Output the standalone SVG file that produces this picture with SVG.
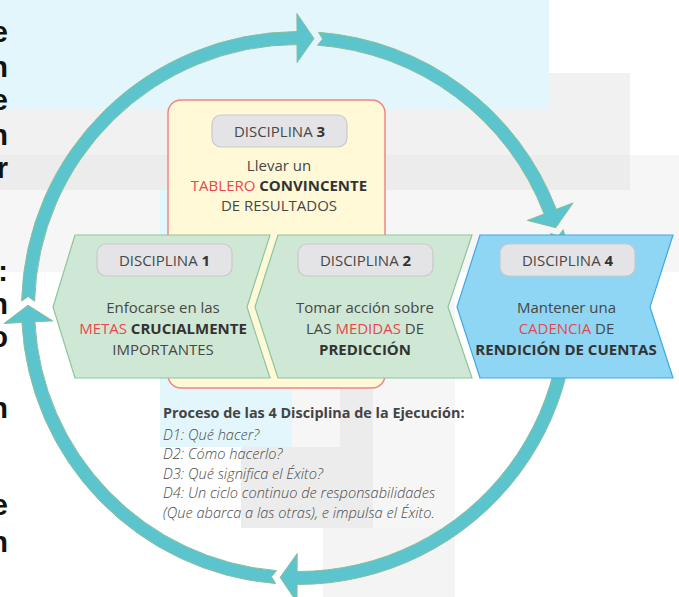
<svg xmlns="http://www.w3.org/2000/svg" width="679" height="597" viewBox="0 0 679 597">
<style>
.t{font-family:"Open Sans","Noto Sans","Liberation Sans",sans-serif;font-size:15px;fill:#474747;text-anchor:middle}
.b{font-weight:700;fill:#333}
.r{fill:#e8474f}
.pill{fill:#e4e4e6;stroke:#c9c9cb;stroke-width:1.2}
.ring{fill:#5bc4cc;stroke:#8bbf9c;stroke-width:1}
.green{fill:#cfe8d5;stroke:#8cc59c;stroke-width:1.2}
.frag{font-family:"Liberation Sans","Open Sans",sans-serif;font-size:29px;font-weight:700;fill:#111;text-anchor:end}
.cap{font-family:"Open Sans","Noto Sans","Liberation Sans",sans-serif;font-size:14.6px;font-weight:300;fill:#4a4a4a;font-style:italic}
</style>
<g id="background">
<rect x="0" y="0" width="679" height="597" fill="#ffffff"/>
<rect x="0" y="155" width="679" height="117" fill="#f6f6f6"/>
<rect x="0" y="110" width="630" height="45" fill="#f1f1f1"/>
<rect x="455" y="73" width="175" height="37" fill="#f1f1f1"/>
<rect x="0" y="155" width="630" height="35" fill="#ececec"/>
<rect x="0" y="0" width="549" height="110" fill="#e2f6fc"/>
<rect x="292" y="272" width="163" height="256" fill="#f6f6f6"/>
<rect x="323" y="528" width="132" height="69" fill="#f4f4f4"/>
<rect x="340" y="378" width="33" height="150" fill="#ececec"/>
<rect x="241" y="447" width="132" height="81" fill="#ececec"/>
<rect x="160" y="190" width="132" height="257" fill="#e2f6fc"/>
</g>
<g id="edge-fragments">
<text class="frag" x="8" y="42">e</text>
<text class="frag" x="8" y="77">n</text>
<text class="frag" x="8" y="110">e</text>
<text class="frag" x="8" y="145">n</text>
<text class="frag" x="8" y="178">r</text>
<text class="frag" x="8" y="281">:</text>
<text class="frag" x="8" y="314">n</text>
<text class="frag" x="8" y="347">o</text>
<text class="frag" x="8" y="418">n</text>
<text class="frag" x="8" y="515">e</text>
<text class="frag" x="8" y="552">n</text>
</g>
<g id="connectors">
<path id="arrow-to-top" class="ring" d="M21.6,301.0 A276.5,276.5 0 0 1 297.0,31.5 L296.9,13.5 L314.0,38.5 L297.1,62.5 L297.0,44.5 A263.5,263.5 0 0 0 34.6,301.3 L28.2,296.6 Z"/>
<path id="arrow-to-d4" class="ring" d="M318.5,32.3 A276.5,276.5 0 0 1 556.3,209.3 L573.1,202.9 L555.8,227.7 L527.3,220.4 L544.1,214.0 A263.5,263.5 0 0 0 317.5,45.2 L322.6,39.1 Z"/>
<path id="arrow-to-bottom" class="ring" d="M563.2,229.7 A276.5,276.5 0 0 1 297.1,584.5 L297.0,602.5 L280.1,577.4 L297.2,553.5 L297.1,571.5 A263.5,263.5 0 0 0 550.7,233.4 L558.2,236.0 Z"/>
<path id="arrow-to-left" class="ring" d="M275.6,583.6 A276.5,276.5 0 0 1 21.9,322.5 L3.9,323.5 L28.0,305.2 L52.8,320.9 L34.9,321.8 A263.5,263.5 0 0 0 276.6,570.6 L271.5,576.7 Z"/>
</g>
<g id="d3">
<rect x="168" y="100" width="217" height="288" rx="13" fill="#fff9d8" stroke="#f08585" stroke-width="1.5"/>
<rect class="pill" x="212" y="115" width="135" height="32" rx="9"/>
<text class="t" x="279.5" y="136.5">DISCIPLINA <tspan class="b">3</tspan></text>
<text class="t" x="279" y="171">Llevar un</text>
<text class="t" x="279" y="191"><tspan class="r">TABLERO</tspan> <tspan class="b">CONVINCENTE</tspan></text>
<text class="t" x="279" y="211">DE RESULTADOS</text>
</g>
<g id="d1">
<polygon class="green" points="75,235 270,235 247,307 270,378 75,378 53,307"/>
<rect class="pill" x="97" y="244" width="135" height="32" rx="9"/>
<text class="t" x="164.5" y="265.5">DISCIPLINA <tspan class="b">1</tspan></text>
<text class="t" x="163" y="313">Enfocarse en las</text>
<text class="t" x="163" y="334"><tspan class="r">METAS</tspan> <tspan class="b">CRUCIALMENTE</tspan></text>
<text class="t" x="163" y="355">IMPORTANTES</text>
</g>
<g id="d2">
<polygon class="green" points="278,235 472,235 448,307 472,378 278,378 255,307"/>
<rect class="pill" x="298" y="244" width="135" height="32" rx="9"/>
<text class="t" x="365.5" y="265.5">DISCIPLINA <tspan class="b">2</tspan></text>
<text class="t" x="365" y="313">Tomar acción sobre</text>
<text class="t" x="365" y="334">LAS <tspan class="r">MEDIDAS</tspan> DE</text>
<text class="t b" x="365" y="355">PREDICCIÓN</text>
</g>
<g id="d4">
<polygon points="480,235 673,235 650,307 673,378 480,378 457,307" fill="#8fd5f4" stroke="#3fa9e1" stroke-width="1.2"/>
<rect class="pill" x="500" y="244" width="135" height="32" rx="9"/>
<text class="t" x="567.5" y="265.5">DISCIPLINA <tspan class="b">4</tspan></text>
<text class="t" x="566.5" y="313">Mantener una</text>
<text class="t" x="566.5" y="334"><tspan class="r">CADENCIA</tspan> DE</text>
<text class="t b" x="566" y="355">RENDICIÓN DE CUENTAS</text>
</g>
<g id="caption">
<text x="163" y="418" style="font-family:'Open Sans','Noto Sans','Liberation Sans',sans-serif;font-size:14.4px;font-weight:700;fill:#444">Proceso de las 4 Disciplina de la Ejecución:</text>
<text class="cap" x="163" y="440">D1: Qué hacer?</text>
<text class="cap" x="163" y="459">D2: Cómo hacerlo?</text>
<text class="cap" x="163" y="479">D3: Qué significa el Éxito?</text>
<text class="cap" x="163" y="498">D4: Un ciclo continuo de responsabilidades</text>
<text class="cap" x="163" y="518">(Que abarca a las otras), e impulsa el Éxito.</text>
</g>
</svg>
